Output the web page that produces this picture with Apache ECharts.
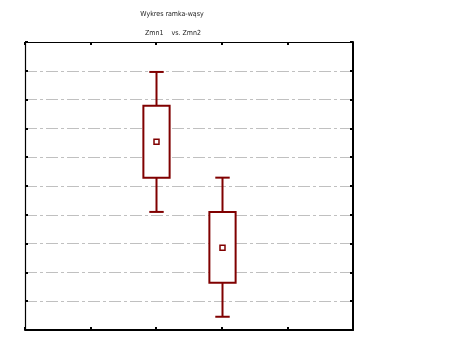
<!DOCTYPE html>
<html><head><meta charset="utf-8">
<script src="https://cdn.jsdelivr.net/npm/echarts@6/dist/echarts.min.js"></script>
<style>html,body{margin:0;padding:0;background:#fff}#c{width:475px;height:356px}</style>
</head><body><div id="c"></div>
<script>
var titleLine1 = 'Wykres ramka-wąsy';
var titleLine2 = 'Zmn1    vs. Zmn2';
var categories = ['Zmn1', 'Zmn2'];
var categoryPositions = [2, 3];
var whiskerLow = [4.10, 0.46];
var boxLow = [5.29, 1.64];
var means = [6.54, 2.86];
var boxHigh = [7.79, 4.10];
var whiskerHigh = [8.96, 5.29];

var data = categories.map(function (c, i) {
  return [categoryPositions[i], whiskerLow[i], boxLow[i], means[i], boxHigh[i], whiskerHigh[i]];
});
var col = '#800000';
var chart = echarts.init(document.getElementById('c'), null, {renderer: 'canvas'});
function ticks() { return {show: true, inside: true, length: 3, lineStyle: {color: '#000', width: 2}}; }
function line(w) { return {show: true, onZero: false, lineStyle: {color: '#000', width: w}}; }
var tf = 'Liberation Sans Narrow, DejaVu Sans Condensed, Arial Narrow, sans-serif';
chart.setOption({
  animation: false,
  title: [
    {text: titleLine1, left: 167, top: 6, textAlign: 'center',
     textStyle: {fontSize: 7, fontWeight: 'normal', color: '#222', fontFamily: tf}},
    {text: titleLine2, left: 168, top: 25, textAlign: 'center',
     textStyle: {fontSize: 7, fontWeight: 'normal', color: '#222', fontFamily: tf}}
  ],
  grid: {left: 25, right: 122, top: 42, bottom: 26, show: false},
  xAxis: [
    {type: 'value', min: 0, max: 5, interval: 1, axisLine: line(2),
     axisTick: ticks(), axisLabel: {show: false}, splitLine: {show: false}},
    {type: 'value', position: 'top', min: 0, max: 5, interval: 1, axisLine: line(1.2),
     axisTick: ticks(), axisLabel: {show: false}, splitLine: {show: false}}
  ],
  yAxis: [
    {type: 'value', min: 0, max: 10, interval: 1, axisLine: line(1.2),
     axisTick: ticks(), axisLabel: {show: false},
     splitLine: {show: true, showMinLine: false, showMaxLine: false, lineStyle: {color: '#c0c0c0', width: 1, type: [12, 3, 3, 3]}}},
    {type: 'value', position: 'right', min: 0, max: 10, interval: 1, axisLine: line(2),
     axisTick: ticks(), axisLabel: {show: false}, splitLine: {show: false}}
  ],
  series: [{
    type: 'custom',
    data: data,
    encode: {x: 0, y: [1, 2, 3, 4, 5]},
    renderItem: function (params, api) {
      var x = api.value(0);
      var pWL = api.coord([x, api.value(1)]);
      var pBL = api.coord([x, api.value(2)]);
      var pM = api.coord([x, api.value(3)]);
      var pBH = api.coord([x, api.value(4)]);
      var pWH = api.coord([x, api.value(5)]);
      var bw = api.size([0.4, 0])[0] / 2;
      var cw = api.size([0.22, 0])[0] / 2;
      var st = {stroke: col, lineWidth: 2, fill: null};
      var cx = Math.round(pM[0]) + 0.5;
      return {type: 'group', children: [
        {type: 'line', shape: {x1: cx, y1: pWH[1], x2: cx, y2: pBH[1]}, style: st},
        {type: 'line', shape: {x1: cx, y1: pBL[1], x2: cx, y2: pWL[1]}, style: st},
        {type: 'line', shape: {x1: cx - cw, y1: pWH[1], x2: cx + cw, y2: pWH[1]}, style: st},
        {type: 'line', shape: {x1: cx - cw, y1: pWL[1], x2: cx + cw, y2: pWL[1]}, style: st},
        {type: 'rect', shape: {x: cx - bw, y: pBH[1], width: 2 * bw, height: pBL[1] - pBH[1]}, style: {stroke: col, lineWidth: 2, fill: '#fff'}},
        {type: 'rect', shape: {x: cx - 2.5, y: pM[1] - 2.5, width: 5, height: 5}, style: {stroke: col, lineWidth: 1.5, fill: '#fff'}}
      ]};
    }
  }]
});
</script></body></html>
